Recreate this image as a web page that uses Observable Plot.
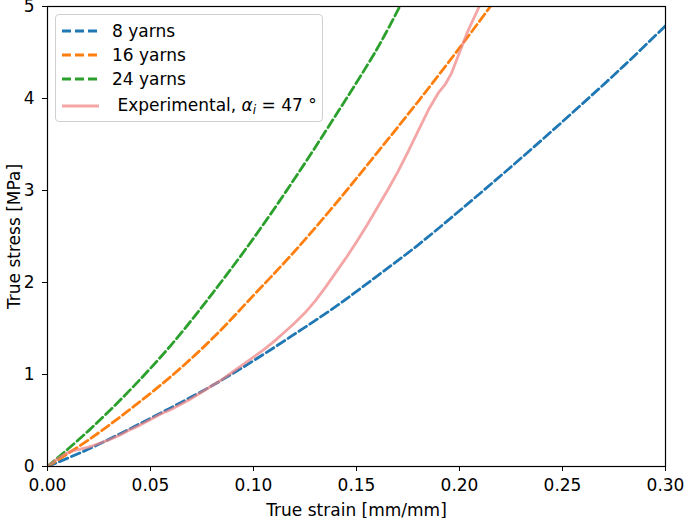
<!DOCTYPE html>
<html>
<head>
<meta charset="utf-8">
<script src="https://cdn.jsdelivr.net/npm/d3@7"></script>
<script src="https://cdn.jsdelivr.net/npm/@observablehq/plot@0.6"></script>
<style>
  body { margin: 0; background: white; font-family: "DejaVu Sans", sans-serif; }
  #chart { position: relative; width: 685px; height: 518px; }
  .legend {
    position: absolute; left: 55px; top: 14px; width: 266px; height: 106px;
    border: 1px solid #d0d0d0; border-radius: 4px; background: rgba(255,255,255,0.8);
    font-size: 17px; color: #000;
  }
  .legend .item { position: absolute; left: 6px; height: 22px; display: flex; align-items: center; }
  .legend .item span { margin-left: 13px; white-space: nowrap; }
  .legend sub { font-size: 12px; font-style: italic; vertical-align: -3px; }
</style>
</head>
<body>
<div id="chart"></div>
<script>
// model curves (true strain, true stress in MPa)
const strain8 = [0, 0.02, 0.04, 0.06, 0.08, 0.10, 0.12, 0.14, 0.16, 0.18, 0.20, 0.22, 0.24, 0.26, 0.28, 0.30];
const stress8 = [0, 0.19, 0.41, 0.64, 0.88, 1.15, 1.44, 1.74, 2.07, 2.41, 2.78, 3.16, 3.55, 3.95, 4.36, 4.79];

const strain16 = [0, 0.02, 0.04, 0.06, 0.08, 0.10, 0.12, 0.14, 0.16, 0.18, 0.20, 0.215];
const stress16 = [0, 0.29, 0.62, 0.98, 1.39, 1.86, 2.34, 2.86, 3.41, 3.97, 4.55, 5.0];

const strain24 = [0, 0.02, 0.04, 0.06, 0.08, 0.10, 0.12, 0.14, 0.16, 0.171];
const stress24 = [0, 0.39, 0.83, 1.32, 1.88, 2.48, 3.13, 3.82, 4.54, 5.0];

// experimental curve
const strainExp = [0, 0.004, 0.008, 0.012, 0.016, 0.020, 0.025, 0.030, 0.035, 0.040, 0.045, 0.050,
  0.055, 0.060, 0.065, 0.070, 0.075, 0.080, 0.085, 0.090, 0.095, 0.100, 0.105, 0.110, 0.115,
  0.120, 0.125, 0.130, 0.135, 0.140, 0.145, 0.150, 0.155, 0.160, 0.165, 0.170, 0.175, 0.180,
  0.185, 0.190, 0.193, 0.196, 0.200, 0.204, 0.2096];
const stressExp = [0, 0.07, 0.13, 0.17, 0.19, 0.21, 0.25, 0.29, 0.34, 0.40, 0.45, 0.51,
  0.57, 0.62, 0.68, 0.74, 0.81, 0.88, 0.95, 1.03, 1.11, 1.19, 1.27, 1.36, 1.46,
  1.56, 1.67, 1.80, 1.95, 2.11, 2.27, 2.44, 2.62, 2.81, 3.00, 3.20, 3.42, 3.65,
  3.88, 4.07, 4.15, 4.27, 4.50, 4.73, 5.0];

const xTicks = [0, 0.05, 0.10, 0.15, 0.20, 0.25, 0.30];
const yTicks = [0, 1, 2, 3, 4, 5];

const toRows = (xs, ys) => xs.map((x, i) => ({x, y: ys[i]}));
const dash = "9,4";

let chart = Plot.plot({
  width: 685,
  height: 518,
  marginLeft: 47,
  marginRight: 20,
  marginTop: 6,
  marginBottom: 52,
  style: {fontFamily: "DejaVu Sans", fontSize: "17px", color: "black", background: "white"},
  x: {domain: [0, 0.30]},
  y: {domain: [0, 5]},
  marks: [
    Plot.line(toRows(strain8, stress8), {x: "x", y: "y", stroke: "#1f77b4", strokeWidth: 2.8, strokeDasharray: dash, curve: "catmull-rom", clip: true}),
    Plot.line(toRows(strain16, stress16), {x: "x", y: "y", stroke: "#ff7f0e", strokeWidth: 2.8, strokeDasharray: dash, curve: "catmull-rom", clip: true}),
    Plot.line(toRows(strain24, stress24), {x: "x", y: "y", stroke: "#2ca02c", strokeWidth: 2.8, strokeDasharray: dash, curve: "catmull-rom", clip: true}),
    Plot.line(toRows(strainExp, stressExp), {x: "x", y: "y", stroke: "lightcoral", strokeOpacity: 0.7, strokeWidth: 2.8, clip: true}),
    Plot.axisX({ticks: xTicks, tickFormat: d3.format(".2f"), tickSize: 5, tickPadding: 7,
      label: "True strain [mm/mm]", labelAnchor: "center", labelArrow: "none", labelOffset: 49}),
    Plot.axisY({ticks: yTicks, tickFormat: d3.format("d"), tickSize: 5, tickPadding: 8,
      label: "True stress [MPa]", labelAnchor: "center", labelArrow: "none", labelOffset: 40}),
    Plot.frame({stroke: "black", strokeWidth: 1.2})
  ]
});
d3.select("#chart").append(() => chart);

// legend box drawn over the plot, upper left
const legendItems = [
  {label: "8 yarns", color: "#1f77b4", dash: dash, top: 5},
  {label: "16 yarns", color: "#ff7f0e", dash: dash, top: 29},
  {label: "24 yarns", color: "#2ca02c", dash: dash, top: 53},
  {label: "&nbsp;Experimental, <i>α</i><sub>i</sub> = 47 °", color: "lightcoral", dash: null, top: 80}
];
const legend = d3.select("#chart").append("div").attr("class", "legend");
legendItems.forEach(d => {
  const item = legend.append("div").attr("class", "item").style("top", d.top + "px");
  const svg = item.append("svg").attr("width", 37).attr("height", 22);
  svg.append("line").attr("x1", 0).attr("x2", 37).attr("y1", 11).attr("y2", 11)
    .attr("stroke", d.color).attr("stroke-width", 2.8)
    .attr("stroke-opacity", d.dash ? 1 : 0.7)
    .attr("stroke-dasharray", d.dash);
  item.append("span").html(d.label);
});
</script>
</body>
</html>
